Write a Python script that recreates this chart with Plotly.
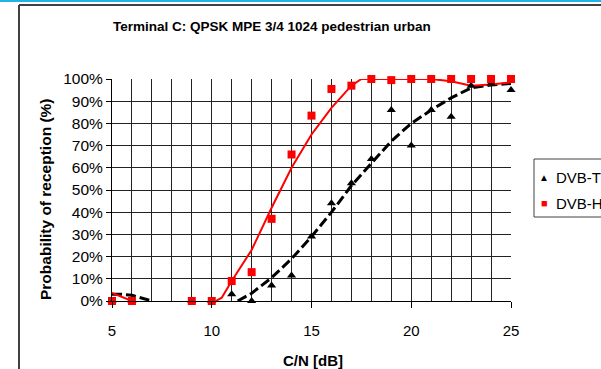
import plotly.graph_objects as go

# ---- data ----
cn_points = [5, 6, 9, 10, 11, 12, 13, 14, 15, 16, 17, 18, 19, 20, 21, 22, 23, 24, 25]
dvbt_values = [0, 0, 0, 0, 3, 0, 7, 11.5, 29, 44, 53, 64, 86, 70, 86, 83, 97, 98, 95]
dvbh_values = [0, 0, 0, 0, 9, 13, 37, 66, 83.5, 95.5, 97, 100, 99.5, 100, 100, 100, 100, 100, 100]

# trend curves (None = gap in the drawn curve)
dvbt_trend_x = [5, 5.5, 6, 6.5, 7, None, 11.3, 12, 13, 14, 15, 16, 17, 18, 19, 20, 21, 22, 23, 24, 25]
dvbt_trend_y = [3, 3, 2.6, 1.2, 0, None, 0, 3.5, 10.5, 19, 29, 40, 52, 62, 72, 80, 86, 91.5, 96, 97.3, 98]
dvbh_trend_x = [5, 5.5, 6, None, 10.2, 10.5, 11, 12, 13, 14, 15, 16, 17, 17.5, 18, 19, 20, 21, 22, 23, 24, 25]
dvbh_trend_y = [3.6, 1.8, 0, None, 0, 1.5, 9, 23, 42, 60, 75, 87, 97, 100, 100, 100, 100, 100, 99, 97, 97.5, 98.5]

series_names = ["DVB-T", "DVB-H"]
title_text = "Terminal C: QPSK MPE 3/4 1024 pedestrian urban"
x_title = "C/N [dB]"
y_title = "Probability of reception (%)"
x_ticks = [5, 10, 15, 20, 25]
y_ticks = [0, 10, 20, 30, 40, 50, 60, 70, 80, 90, 100]
y_tick_labels = [f"{v}%" for v in y_ticks]

FONT = "Arial, Liberation Sans, sans-serif"
W, H = 601, 369
L, R, T, B = 112, 90, 79, 68
PW, PH = W - L - R, H - T - B


def px_x(p):
    return (p - L) / PW


def px_y(p):
    return (H - B - p) / PH


fig = go.Figure()

fig.add_trace(go.Scatter(x=dvbt_trend_x, y=dvbt_trend_y, mode="lines",
                         line=dict(color="black", width=3, dash="10px,4px"),
                         showlegend=False, hoverinfo="skip", connectgaps=False))
fig.add_trace(go.Scatter(x=dvbh_trend_x, y=dvbh_trend_y, mode="lines",
                         line=dict(color="#FF0000", width=2),
                         showlegend=False, hoverinfo="skip", connectgaps=False))
fig.add_trace(go.Scatter(x=cn_points, y=dvbt_values, mode="markers", name=series_names[0],
                         marker=dict(symbol="triangle-up", size=8, color="black"),
                         cliponaxis=False, showlegend=False))
fig.add_trace(go.Scatter(x=cn_points, y=dvbh_values, mode="markers", name=series_names[1],
                         marker=dict(symbol="square", size=8, color="#FF0000"),
                         cliponaxis=False, showlegend=False))

grid_col = "#222222"
fig.update_xaxes(range=[5, 25], tickvals=x_ticks, ticks="outside", ticklen=6,
                 tickcolor="black", showgrid=True, gridcolor=grid_col, gridwidth=1,
                 minor=dict(dtick=1, showgrid=True, gridcolor=grid_col, gridwidth=1),
                 showline=True, linecolor="black", linewidth=1, zeroline=False,
                 tickfont=dict(family=FONT, size=15, color="black"),
                 ticklabelstandoff=10)
fig.update_yaxes(range=[0, 100], tickmode="array", tickvals=y_ticks, ticktext=y_tick_labels,
                 ticks="outside", ticklen=5, tickcolor="black", showgrid=True,
                 gridcolor=grid_col, gridwidth=1, showline=True, linecolor="black",
                 linewidth=1, zeroline=False,
                 tickfont=dict(family=FONT, size=15.5, color="black"))

shapes = [
    # outer chart frame (left and top edges)
    dict(type="line", xref="paper", yref="paper", x0=px_x(19), x1=px_x(19),
         y0=px_y(5), y1=px_y(400), line=dict(color="#404040", width=2)),
    dict(type="line", xref="paper", yref="paper", x0=px_x(19), x1=px_x(640),
         y0=px_y(5), y1=px_y(5), line=dict(color="#404040", width=2)),
    # page cyan line at very top
    dict(type="line", xref="paper", yref="paper", x0=px_x(0), x1=px_x(601),
         y0=px_y(1), y1=px_y(1), line=dict(color="#1EB4E6", width=2)),
    # legend box
    dict(type="rect", xref="paper", yref="paper", x0=px_x(534), x1=px_x(660),
         y0=px_y(217), y1=px_y(159), line=dict(color="#404040", width=1),
         fillcolor="white"),
]

annotations = [
    dict(text="<b>" + title_text + "</b>", xref="paper", yref="paper",
         x=px_x(272), y=px_y(27), showarrow=False, xanchor="center", yanchor="middle",
         font=dict(family=FONT, size=13.5, color="black")),
    dict(text="<b>" + x_title + "</b>", xref="paper", yref="paper",
         x=px_x(313), y=px_y(360), showarrow=False, xanchor="center", yanchor="middle",
         font=dict(family=FONT, size=15, color="black")),
    dict(text="<b>" + y_title + "</b>", xref="paper", yref="paper",
         x=px_x(45), y=px_y(199), showarrow=False, xanchor="center", yanchor="middle",
         textangle=-90, font=dict(family=FONT, size=15.5, color="black")),
    dict(text="▲", xref="paper", yref="paper", x=px_x(544), y=px_y(177),
         showarrow=False, xanchor="center", yanchor="middle",
         font=dict(family=FONT, size=10, color="black")),
    dict(text=series_names[0], xref="paper", yref="paper", x=px_x(554), y=px_y(177),
         showarrow=False, xanchor="left", yanchor="middle",
         font=dict(family=FONT, size=15, color="black")),
    dict(text="■", xref="paper", yref="paper", x=px_x(544), y=px_y(203),
         showarrow=False, xanchor="center", yanchor="middle",
         font=dict(family=FONT, size=11, color="#FF0000")),
    dict(text=series_names[1], xref="paper", yref="paper", x=px_x(554), y=px_y(203),
         showarrow=False, xanchor="left", yanchor="middle",
         font=dict(family=FONT, size=15, color="black")),
]

fig.update_layout(width=W, height=H, margin=dict(l=L, r=R, t=T, b=B, autoexpand=False),
                  paper_bgcolor="white", plot_bgcolor="white", showlegend=False,
                  shapes=shapes, annotations=annotations)

fig.write_html("out.html", config={"displayModeBar": False},
               post_script="document.body.style.margin='0';")
